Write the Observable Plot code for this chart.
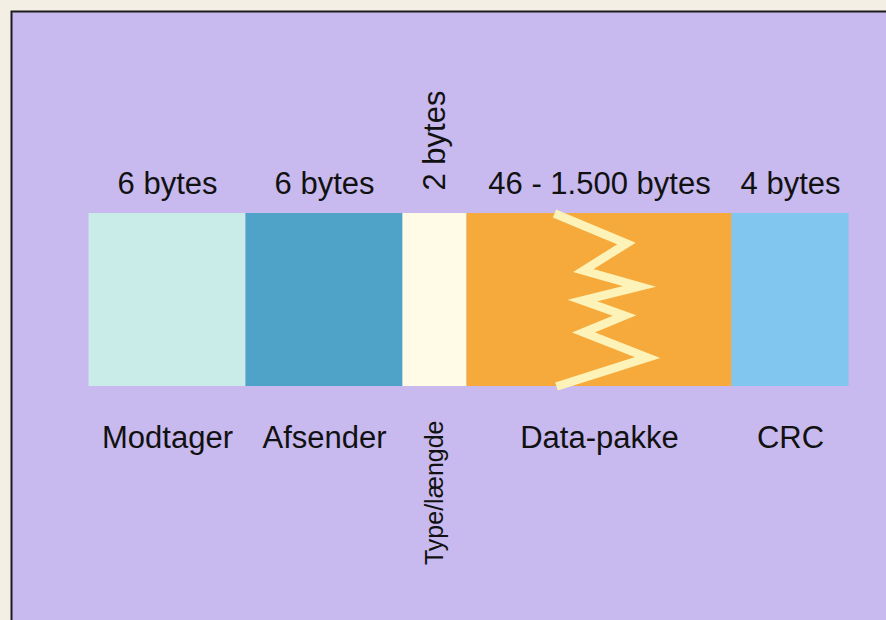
<!DOCTYPE html>
<html>
<head>
<meta charset="utf-8">
<script src="https://cdn.jsdelivr.net/npm/d3@7"></script>
<script src="https://cdn.jsdelivr.net/npm/@observablehq/plot@0.6"></script>
<style>
  html, body { margin: 0; padding: 0; background: #f3efe4; overflow: hidden; }
  #chart svg { display: block; }
</style>
</head>
<body>
<div id="chart"></div>
<script>
// Ethernet frame fields (drawn width units, sizes as printed)
const fields = ["Modtager", "Afsender", "Type/længde", "Data-pakke", "CRC"];
const sizeLabels = ["6 bytes", "6 bytes", "2 bytes", "46 - 1.500 bytes", "4 bytes"];
const drawnWidths = [157, 157, 64, 265, 117];
const fieldColors = ["#c9ece8", "#4fa3c9", "#fffbe6", "#f6aa3c", "#80c6ef"];
const rotated = [false, false, true, false, false];

// zigzag "break" inside the data field (x in width units, y in bar height units)
const zigX = [465.5, 537.5, 494.5, 550.5, 493.5, 535.5, 494.5, 558.5, 467.5];
const zigY = [173, 143, 116, 100, 86, 71, 54, 29, 0];

let acc = 0;
const segs = fields.map((f, i) => {
  const s = {field: f, size: sizeLabels[i], x1: acc, x2: acc + drawnWidths[i], color: fieldColors[i], rot: rotated[i]};
  acc += drawnWidths[i];
  return s;
});
segs.forEach(s => s.xm = (s.x1 + s.x2) / 2);
const zig = zigX.map((x, i) => ({x, y: zigY[i]}));
const flat = segs.filter(s => !s.rot);
const rot = segs.filter(s => s.rot);
const font = "Liberation Sans, Arial, Helvetica, sans-serif";

const chart = Plot.plot({
  width: 886,
  height: 620,
  marginLeft: 10,
  marginTop: 10,
  marginRight: 0,
  marginBottom: 0,
  style: {background: "#f3efe4", fontFamily: font},
  x: {type: "linear", domain: [0, 760], range: [88.5, 848.5], axis: null},
  y: {type: "linear", domain: [0, 173], range: [386, 213], axis: null},
  marks: [
    Plot.frame({fill: "#c8b9ee", stroke: "#1c1c1c", strokeWidth: 2, insetLeft: 1, insetTop: 1, insetRight: -10, insetBottom: -10}),
    Plot.rect(segs, {x1: "x1", x2: "x2", y1: 0, y2: 173, fill: "color"}),
    Plot.line(zig, {x: "x", y: "y", stroke: "#fdf3b8", strokeWidth: 8.5, strokeLinejoin: "miter", strokeLinecap: "butt", strokeMiterlimit: 10}),
    Plot.text(flat, {x: "xm", y: 173, text: "size", dy: -20, lineAnchor: "bottom", fontSize: 31, fill: "#111"}),
    Plot.text(flat, {x: "xm", y: 0, text: "field", dy: 61, lineAnchor: "bottom", fontSize: 31, fill: "#111"}),
    Plot.text(rot, {x: "xm", y: 173, text: "size", dy: -23, rotate: -90, textAnchor: "start", lineAnchor: "middle", fontSize: 31, fill: "#111"}),
    Plot.text(rot, {x: "xm", y: 0, text: "field", dy: 34, rotate: -90, textAnchor: "end", lineAnchor: "middle", fontSize: 25, fill: "#111"})
  ]
});
document.getElementById("chart").appendChild(chart);
</script>
</body>
</html>
